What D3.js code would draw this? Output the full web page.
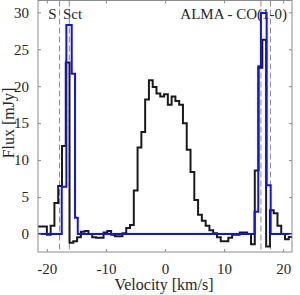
<!DOCTYPE html>
<html>
<head>
<meta charset="utf-8">
<script src="https://cdn.jsdelivr.net/npm/d3@7"></script>
<style>
  body { margin: 0; background: #fff; }
  text { font-family: "Liberation Serif", "Times New Roman", serif; fill: #262626; }
</style>
</head>
<body>
<div id="chart"></div>
<script>
// channel left edges (km/s), observed flux (mJy)
var obsVel = [-21.92, -21.28, -20.64, -20.00, -19.36, -18.72, -18.08, -17.44, -16.80, -16.16,
    -15.52, -14.88, -14.24, -13.60, -12.96, -12.32, -11.68, -11.04, -10.40, -9.76,
    -9.12, -8.48, -7.84, -7.20, -6.56, -5.92, -5.28, -4.64, -4.00, -3.36,
    -2.72, -2.08, -1.44, -0.80, -0.16, 0.48, 1.12, 1.76, 2.40, 3.04,
    3.68, 4.32, 4.96, 5.60, 6.24, 6.88, 7.52, 8.16, 8.80, 9.44,
    10.08, 10.72, 11.36, 12.00, 12.64, 13.28, 13.92, 14.56, 15.20, 15.84,
    16.48, 17.12, 17.76, 18.40, 19.04, 19.68, 20.32, 20.96, 21.60];
var obsFlux = [1.0, 1.0, 1.0, -0.1, 1.1, 4.2, 6.5, 11.9, 23.2, -1.2,
    -1.0, -0.45, 0.3, 0.4, 0.0, -0.45, -0.5, -0.5, 0.2, 0.4,
    -0.1, -0.3, -0.3, 0.1, 0.8, 1.2, 5.9, 11.7, 13.8, 18.2,
    20.8, 19.9, 19.0, 18.6, 18.9, 17.5, 18.6, 18.0, 17.5, 15.0,
    11.4, 8.4, 4.6, 2.6, 1.8, 1.1, 0.5, 0.1, -0.45, -1.0,
    -1.0, -0.5, -0.1, -0.1, 0.2, 0.2, 0.0, -1.4, 8.6, 22.5,
    26.3, -1.7, 3.2, 2.8, 1.1, 0.0, -0.7, -0.4];

// model spectrum: step edges and levels
var modelVel = [-21.5, -17.48, -16.70, -15.79, -15.23, -14.77, 15.15, 15.79, 16.24, 17.21, 17.89, 21.5];
var modelFlux = [0, 6.4, 28.3, 21.7, 2.2, 0, 3.0, 22.7, 29.9, 6.6, 0];

// marked velocities
var markVel = [-17.85, -16.2, 16.24, 17.85];

var xTicks = [-20, -10, 0, 10, 20];
var yTicks = [0, 5, 10, 15, 20, 25, 30];

var width = 300, height = 295;
var mL = 38, mR = 292, mT = 0.5, mB = 252;

var svg = d3.select("#chart").append("svg")
    .attr("width", width)
    .attr("height", height);

var x = d3.scaleLinear().domain([-21.5, 21.5]).range([mL, mR]);
var y = d3.scaleLinear().domain([-2.44, 31.6]).range([mB, mT]);

svg.append("clipPath").attr("id", "clip")
    .append("rect")
    .attr("x", mL).attr("y", mT)
    .attr("width", mR - mL).attr("height", mB - mT);

var plot = svg.append("g").attr("clip-path", "url(#clip)");

// dashed marks
plot.selectAll(".mark")
    .data(markVel)
    .enter().append("line")
    .attr("class", "mark")
    .attr("x1", function (d) { return x(d) })
    .attr("x2", function (d) { return x(d) })
    .attr("y1", mT).attr("y2", mB)
    .attr("stroke", "#8a8a8a")
    .attr("stroke-width", 1)
    .attr("stroke-dasharray", "6,3");

function stepPoints(edges, vals) {
    var pts = vals.map(function (v, i) { return [edges[i], v] });
    pts.push([edges[edges.length - 1], vals[vals.length - 1]]);
    return pts;
}

var line = d3.line()
    .x(function (d) { return x(d[0]) })
    .y(function (d) { return y(d[1]) })
    .curve(d3.curveStepAfter);

plot.append("path")
    .datum(stepPoints(obsVel, obsFlux))
    .attr("d", line)
    .attr("fill", "none")
    .attr("stroke", "#1a1a1a")
    .attr("stroke-width", 2);

plot.append("path")
    .datum(stepPoints(modelVel, modelFlux))
    .attr("d", line)
    .attr("fill", "none")
    .attr("stroke", "#1010ff")
    .attr("stroke-width", 2);

// frame with inward ticks on all sides
var axisColor = "#8c8c8c";
var tl = 3;
var fmt = function (d) { return String(d) };

svg.append("rect")
    .attr("x", mL).attr("y", mT)
    .attr("width", mR - mL).attr("height", mB - mT)
    .attr("fill", "none")
    .attr("stroke", axisColor)
    .attr("stroke-width", 1);

var gx = svg.append("g").attr("transform", "translate(0," + mB + ")")
    .call(d3.axisBottom(x).tickValues(xTicks).tickSizeInner(-tl).tickSizeOuter(0).tickPadding(11).tickFormat(fmt));
var gxt = svg.append("g").attr("transform", "translate(0," + mT + ")")
    .call(d3.axisTop(x).tickValues(xTicks).tickSizeInner(-tl).tickSizeOuter(0).tickFormat(""));
var gy = svg.append("g").attr("transform", "translate(" + mL + ",0)")
    .call(d3.axisLeft(y).tickValues(yTicks).tickSizeInner(-tl).tickSizeOuter(0).tickPadding(9).tickFormat(fmt));
var gyr = svg.append("g").attr("transform", "translate(" + mR + ",0)")
    .call(d3.axisRight(y).tickValues(yTicks).tickSizeInner(-tl).tickSizeOuter(0).tickFormat(""));

[gx, gxt, gy, gyr].forEach(function (g) {
    g.select(".domain").remove();
    g.selectAll(".tick line").attr("stroke", axisColor);
    g.selectAll(".tick text")
        .attr("font-family", "Liberation Serif, serif")
        .attr("font-size", 15)
        .attr("fill", "#262626");
});

svg.append("text")
    .attr("x", (mL + mR) / 2 - 1)
    .attr("y", 290)
    .attr("text-anchor", "middle")
    .attr("font-size", 16)
    .text("Velocity [km/s]");

svg.append("text")
    .attr("transform", "translate(14," + 123 + ") rotate(-90)")
    .attr("text-anchor", "middle")
    .attr("font-size", 16)
    .text("Flux [mJy]");

svg.append("text")
    .attr("x", 287).attr("y", 18.5)
    .attr("text-anchor", "end")
    .attr("font-size", 15)
    .text("ALMA - CO(1-0)");

svg.append("text")
    .attr("x", 56.5).attr("y", 18.5)
    .attr("text-anchor", "end")
    .attr("font-size", 15)
    .text("S");

svg.append("text")
    .attr("x", 63).attr("y", 18.5)
    .attr("font-size", 15)
    .text("Sct");
</script>
</body>
</html>
